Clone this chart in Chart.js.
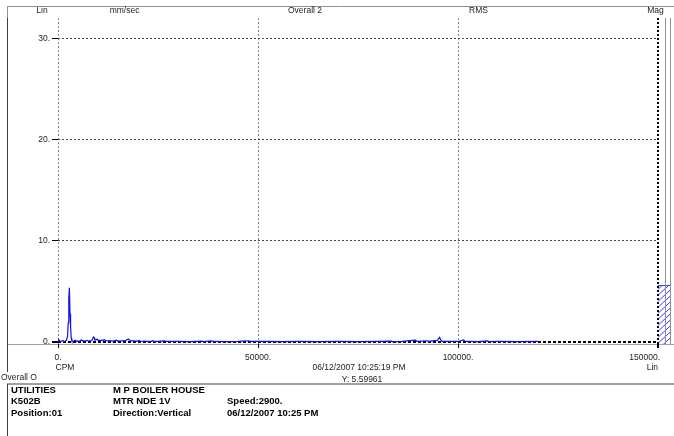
<!DOCTYPE html>
<html><head><meta charset="utf-8">
<script src="https://cdn.jsdelivr.net/npm/chart.js@4.4.0/dist/chart.umd.min.js"></script>
<style>html,body{margin:0;padding:0;background:#fff;overflow:hidden}#wrap{width:674px;height:436px;position:relative}</style>
</head><body><div id="wrap"><canvas id="c" width="674" height="436"></canvas></div>
<script>
// ---- data ----
const cpm = [0,150,300,600,900,1200,1500,1800,2100,2400,2550,2700,2850,3000,3150,3300,3450,3750,4050,4350,4650,4950,5250,5550,5850,6150,6450,6750,7050,7350,7650,7950,8250,8550,8850,9000,9150,9450,9750,10050,10350,10650,10950,11250,11550,11850,12150,12450,12750,13050,13350,13650,13950,14250,14550,14850,15150,15450,15750,16050,16350,16650,16950,17250,17550,17850,18150,18450,18750,19050,19350,19650,19950,20250,20550,21000,21600,22200,22800,23400,23700,24000,25000,26700,27000,30000,33000,36000,36300,38400,38700,42000,45000,47700,48000,52000,56000,60000,65000,70000,75000,80000,83300,83600,86000,89400,89700,92400,92700,94800,95400,95700,96000,100000,101400,101700,102000,105000,107400,107700,110000,115000,120000];
const amp = [0.05,0.25,0.15,0.05,0.08,0.12,0.06,0.1,0.15,0.6,1.9,4.3,5.35,2.8,1.5,0.4,0.15,0.08,0.12,0.18,0.07,0.1,0.06,0.12,0.22,0.1,0.14,0.08,0.12,0.16,0.09,0.12,0.1,0.2,0.5,0.45,0.3,0.2,0.28,0.15,0.18,0.12,0.2,0.14,0.22,0.16,0.12,0.1,0.14,0.1,0.12,0.09,0.11,0.13,0.18,0.11,0.1,0.09,0.12,0.1,0.13,0.11,0.15,0.22,0.3,0.2,0.14,0.1,0.12,0.1,0.09,0.11,0.08,0.15,0.09,0.07,0.08,0.06,0.07,0.06,0.12,0.06,0.05,0.1,0.05,0.05,0.04,0.08,0.04,0.1,0.05,0.04,0.05,0.12,0.05,0.05,0.04,0.05,0.04,0.05,0.04,0.05,0.08,0.04,0.05,0.18,0.05,0.12,0.05,0.15,0.45,0.2,0.05,0.05,0.2,0.1,0.05,0.04,0.1,0.04,0.05,0.04,0.05];
const xTicks = [0,50000,100000,150000];
const xTickLabels = ['0.','50000.','100000.','150000.'];
const yTicks = [0,10,20,30];
const yTickLabels = ['0.','10.','20.','30.'];
const headerLabels = ['Lin','mm/sec','Overall 2','RMS','Mag'];
const overallValue = 5.59961;
const infoCol1 = ['UTILITIES','K502B','Position:01'];
const infoCol2 = ['M P BOILER HOUSE','MTR NDE 1V','Direction:Vertical'];
const infoCol3 = ['','Speed:2900.','06/12/2007 10:25 PM'];
const timestamp = '06/12/2007 10:25:19 PM';
const xUnit = 'CPM', xScaleType = 'Lin', overallLabel = 'Overall O';

const FONT = '"Liberation Sans", Arial, sans-serif';

const decor = {
  id: 'decor',
  beforeDraw(chart) {
    const ctx = chart.ctx, a = chart.chartArea;
    ctx.save();
    ctx.fillStyle = '#fff';
    ctx.fillRect(0, 0, chart.width, chart.height);
    ctx.strokeStyle = '#909090'; ctx.lineWidth = 1;
    ctx.beginPath(); ctx.moveTo(7, 6.5); ctx.lineTo(674, 6.5); ctx.stroke();
    ctx.beginPath(); ctx.moveTo(7.5, 6); ctx.lineTo(7.5, a.top); ctx.stroke();
    ctx.strokeStyle = '#a0a0a0';
    ctx.beginPath(); ctx.moveTo(7, a.bottom + 0.5); ctx.lineTo(674, a.bottom + 0.5); ctx.stroke();
    ctx.lineWidth = 2;
    ctx.beginPath(); ctx.moveTo(7, 384); ctx.lineTo(674, 384); ctx.stroke();
    ctx.lineWidth = 1; ctx.strokeStyle = '#404040';
    ctx.beginPath(); ctx.moveTo(7.5, a.top); ctx.lineTo(7.5, 372); ctx.stroke();
    ctx.beginPath(); ctx.moveTo(7.5, 384); ctx.lineTo(7.5, 436); ctx.stroke();
    const y = chart.scales.y;
    const top = y.getPixelForValue(overallValue), bot = a.bottom;
    const x0 = a.right, x1 = 671;
    ctx.save();
    ctx.beginPath(); ctx.rect(x0, top, x1 - x0, bot - top); ctx.clip();
    ctx.strokeStyle = '#3a3aff'; ctx.lineWidth = 1;
    for (let k = top - 20; k < bot + 20; k += 6) {
      ctx.beginPath(); ctx.moveTo(x0, k + 12); ctx.lineTo(x1, k); ctx.stroke();
    }
    ctx.restore();
    ctx.strokeStyle = '#3a3aff';
    ctx.beginPath(); ctx.moveTo(x0, Math.round(top) + 0.5); ctx.lineTo(x1, Math.round(top) + 0.5); ctx.stroke();
    ctx.strokeStyle = '#909090';
    ctx.beginPath(); ctx.moveTo(665.5, a.top); ctx.lineTo(665.5, a.bottom); ctx.stroke();
    ctx.beginPath(); ctx.moveTo(670.5, a.top); ctx.lineTo(670.5, a.bottom); ctx.stroke();
    ctx.restore();
  },
  afterDraw(chart) {
    const ctx = chart.ctx, xs = chart.scales.x;
    ctx.save();
    ctx.fillStyle = '#222';
    ctx.font = '8.5px ' + FONT;
    ctx.textBaseline = 'middle';
    const hx = [42, 124.5, 305, 478.5, 655.5];
    ctx.textAlign = 'center';
    headerLabels.forEach((t, i) => ctx.fillText(t, hx[i], 11));
    xTicks.forEach((v, i) => {
      const px = xs.getPixelForValue(v);
      if (i === xTicks.length - 1) { ctx.textAlign = 'right'; ctx.fillText(xTickLabels[i], px + 2, 358); }
      else { ctx.textAlign = 'center'; ctx.fillText(xTickLabels[i], px, 358); }
    });
    ctx.textAlign = 'center';
    ctx.fillText(xUnit, 65, 368);
    ctx.fillText(timestamp, 359, 368);
    ctx.fillText('Y: ' + overallValue, 362, 379.5);
    ctx.textAlign = 'right';
    ctx.fillText(xScaleType, 658, 368);
    ctx.textAlign = 'left';
    ctx.fillText(overallLabel, 1, 378);
    ctx.fillStyle = '#000';
    ctx.font = 'bold 9.5px ' + FONT;
    const rows = [390, 401.5, 413];
    infoCol1.forEach((t, i) => ctx.fillText(t, 11, rows[i]));
    infoCol2.forEach((t, i) => ctx.fillText(t, 113, rows[i]));
    infoCol3.forEach((t, i) => t && ctx.fillText(t, 227, rows[i]));
    ctx.restore();
  }
};

new Chart(document.getElementById('c'), {
  type: 'line',
  data: {
    datasets: [{
      data: cpm.map((c, i) => ({ x: c, y: amp[i] })),
      borderColor: '#1010e8',
      borderWidth: 1.2,
      pointRadius: 0,
      tension: 0,
      fill: false
    }]
  },
  options: {
    responsive: false,
    animation: false,
    devicePixelRatio: 1,
    layout: { padding: { left: 0, right: 16, top: 18, bottom: 0 } },
    plugins: { legend: { display: false }, tooltip: { enabled: false } },
    scales: {
      x: {
        type: 'linear', min: 0, max: 150000,
        afterBuildTicks: s => { s.ticks = xTicks.map(v => ({ value: v })); },
        afterFit: s => { s.height = 92; },
        border: { display: false, dash: [2, 2] },
        ticks: { display: false },
        grid: {
          color: c => c.tick && c.tick.value === 150000 ? '#000' : '#8a8a8a',
          lineWidth: c => c.tick && c.tick.value === 150000 ? 2 : 1,
          tickLength: 4,
          tickColor: '#000',
          tickBorderDash: []
        }
      },
      y: {
        min: -0.2, max: 32,
        afterBuildTicks: s => { s.ticks = yTicks.map(v => ({ value: v })); },
        afterFit: s => { s.width = 58; },
        border: { display: false, dash: c => c.tick && c.tick.value === 0 ? [3, 2] : [2, 2] },
        ticks: {
          callback: v => yTickLabels[yTicks.indexOf(v)],
          font: { family: FONT, size: 8.5 },
          color: '#222',
          padding: 2
        },
        grid: {
          color: c => c.tick && c.tick.value === 0 ? '#000' : '#444',
          lineWidth: c => c.tick && c.tick.value === 0 ? 2 : 1,
          tickLength: 6,
          tickColor: '#000',
          tickBorderDash: []
        }
      }
    }
  },
  plugins: [decor]
});
</script>
</body></html>
